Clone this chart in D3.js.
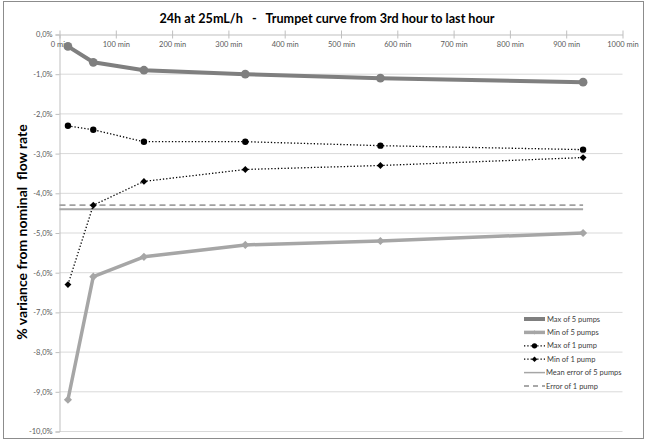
<!DOCTYPE html>
<html>
<head>
<meta charset="utf-8">
<script src="https://cdn.jsdelivr.net/npm/d3@7"></script>
<style>
  html, body { margin: 0; padding: 0; background: #fff; }
  svg { display: block; font-family: Lato, "Open Sans", "Liberation Sans", sans-serif; }
</style>
</head>
<body>
<svg id="chart" width="647" height="441"></svg>
<script>
// Sampling times (minutes)
const times = [15, 60, 150, 330, 570, 930];

// Series values (% variance from nominal flow rate)
const maxOf5 = [-0.3, -0.7, -0.9, -1.0, -1.1, -1.2];
const minOf5 = [-9.2, -6.1, -5.6, -5.3, -5.2, -5.0];
const maxOf1 = [-2.3, -2.4, -2.7, -2.7, -2.8, -2.9];
const minOf1 = [-6.3, -4.3, -3.7, -3.4, -3.3, -3.1];

// Reference levels, drawn across the sampled range
const refSpan = [0, 930];
const meanErrorOf5 = -4.4;
const errorOf1 = -4.3;

// Axis ticks
const xTicks = [0, 100, 200, 300, 400, 500, 600, 700, 800, 900, 1000];
const yTicks = [0, -1, -2, -3, -4, -5, -6, -7, -8, -9, -10];

const title = "24h at 25mL/h   -   Trumpet curve from 3rd hour to last hour";
const yTitle = "% variance from nominal  flow rate";

const svg = d3.select("#chart");
const W = 647, H = 441;

// outer frame
svg.append("rect")
  .attr("x", 3.5).attr("y", 1.5).attr("width", W - 7).attr("height", H - 4)
  .attr("fill", "#fff").attr("stroke", "#8c8c8c").attr("stroke-width", 1);

const x = d3.scaleLinear().domain([0, 1000]).range([59.5, 622.5]);
const y = d3.scaleLinear().domain([0, -10]).range([34.5, 431.5]);

const fmtPct = v => d3.format(".1f")(v).replace("−", "-").replace(".", ",") + "%";

// horizontal gridlines
svg.append("g").selectAll("line")
  .data(yTicks.filter(v => v !== 0))
  .join("line")
  .attr("x1", x(0)).attr("x2", x(1000))
  .attr("y1", d => y(d)).attr("y2", d => y(d))
  .attr("stroke", "#d9d9d9").attr("stroke-width", 1);

// y axis (left)
const yAxis = svg.append("g")
  .attr("transform", `translate(${x(0)},0)`)
  .call(d3.axisLeft(y).tickValues(yTicks).tickSize(4).tickPadding(3)
    .tickFormat(d => fmtPct(d)));
yAxis.select(".domain").attr("stroke", "#bfbfbf");
yAxis.selectAll(".tick line").attr("stroke", "#bfbfbf");
yAxis.selectAll("text").attr("fill", "#595959").attr("font-size", 7.5)
  .attr("font-family", "Lato, 'Open Sans', sans-serif");

// x axis at 0%
const xAxis = svg.append("g")
  .attr("transform", `translate(0,${y(0)})`)
  .call(d3.axisBottom(x).tickValues(xTicks).tickSize(0).tickPadding(7)
    .tickFormat(d => d + " min"));
xAxis.select(".domain").attr("stroke", "#bfbfbf");
xAxis.selectAll(".tick").append("line")
  .attr("y1", -4).attr("y2", 4).attr("stroke", "#bfbfbf");
xAxis.selectAll("text").attr("fill", "#595959").attr("font-size", 7.5)
  .attr("font-family", "Lato, 'Open Sans', sans-serif");

// reference lines
const refLine = d3.line().x(d => x(d[0])).y(d => y(d[1]));
svg.append("path")
  .attr("d", refLine(refSpan.map(t => [t, meanErrorOf5])))
  .attr("fill", "none").attr("stroke", "#a6a6a6").attr("stroke-width", 2);
svg.append("path")
  .attr("d", refLine(refSpan.map(t => [t, errorOf1])))
  .attr("fill", "none").attr("stroke", "#a0a0a0").attr("stroke-width", 1.8)
  .attr("stroke-dasharray", "6,4");

// series definitions
const series = [
  { name: "Max of 5 pumps", values: maxOf5, color: "#7f7f7f", width: 4, dash: null, symbol: d3.symbolCircle, size: 60 },
  { name: "Min of 5 pumps", values: minOf5, color: "#a6a6a6", width: 3.5, dash: null, symbol: d3.symbolDiamond2, size: 42 },
  { name: "Max of 1 pump", values: maxOf1, color: "#000000", width: 1.3, dash: "1.3,2", symbol: d3.symbolCircle, size: 32 },
  { name: "Min of 1 pump", values: minOf1, color: "#000000", width: 1.3, dash: "1.3,2", symbol: d3.symbolDiamond2, size: 30 }
];

const line = d3.line().x((d, i) => x(times[i])).y(d => y(d));

series.forEach(s => {
  svg.append("path")
    .attr("d", line(s.values))
    .attr("fill", "none")
    .attr("stroke", s.color)
    .attr("stroke-width", s.width)
    .attr("stroke-linejoin", "round")
    .attr("stroke-dasharray", s.dash);
  svg.append("g").selectAll("path")
    .data(s.values)
    .join("path")
    .attr("transform", (d, i) => `translate(${x(times[i])},${y(d)})`)
    .attr("d", d3.symbol().type(s.symbol).size(s.size))
    .attr("fill", s.color);
});

// title
svg.append("text")
  .attr("x", 327).attr("y", 23)
  .attr("text-anchor", "middle")
  .attr("font-size", 12.6).attr("font-weight", "bold").attr("fill", "#000")
  .style("white-space", "pre")
  .text(title);

// y axis title
svg.append("text")
  .attr("transform", "translate(27,232) rotate(-90)")
  .attr("text-anchor", "middle")
  .attr("font-size", 14).attr("font-weight", "bold").attr("fill", "#000")
  .style("white-space", "pre")
  .text(yTitle);

// legend
const legendItems = [
  { name: "Max of 5 pumps", color: "#7f7f7f", width: 4, dash: null, symbol: d3.symbolCircle, size: 14 },
  { name: "Min of 5 pumps", color: "#a6a6a6", width: 3.5, dash: null, symbol: d3.symbolDiamond2, size: 12 },
  { name: "Max of 1 pump", color: "#000", width: 1.3, dash: "1.3,2", symbol: d3.symbolCircle, size: 22 },
  { name: "Min of 1 pump", color: "#000", width: 1.3, dash: "1.3,2", symbol: d3.symbolDiamond2, size: 20 },
  { name: "Mean error of 5 pumps", color: "#a6a6a6", width: 1.5, dash: null, symbol: null },
  { name: "Error of 1 pump", color: "#8c8c8c", width: 1.5, dash: "5,4", symbol: null }
];
const legend = svg.append("g");
legendItems.forEach((it, i) => {
  const ly = 319 + i * 13.4;
  const g = legend.append("g").attr("transform", `translate(0,${ly})`);
  g.append("line").attr("x1", 524).attr("x2", 545).attr("y1", 0).attr("y2", 0)
    .attr("stroke", it.color).attr("stroke-width", it.width)
    .attr("stroke-dasharray", it.dash);
  if (it.symbol) {
    g.append("path").attr("transform", "translate(534.5,0)")
      .attr("d", d3.symbol().type(it.symbol).size(it.size))
      .attr("fill", it.color);
  }
  g.append("text").attr("x", it.symbol ? 547 : 546).attr("y", 0).attr("dy", "0.35em")
    .attr("font-size", 7.5).attr("fill", "#404040")
    .text(it.name);
});
</script>
</body>
</html>
